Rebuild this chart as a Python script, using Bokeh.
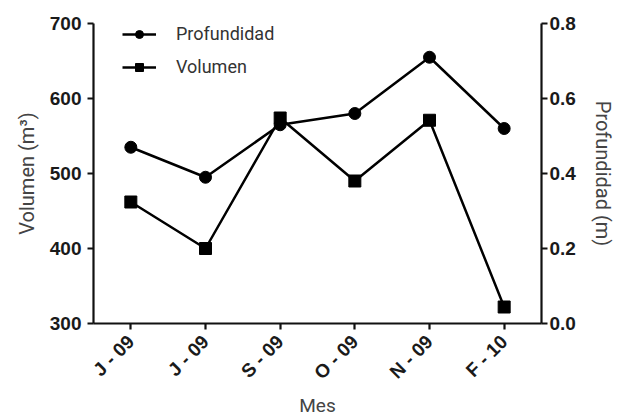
import math
from bokeh.plotting import figure
from bokeh.models import (LinearAxis, Range1d, FixedTicker, PrintfTickFormatter,
                          Legend, LegendItem)
from bokeh.embed import file_html
from bokeh.resources import INLINE

months = ["J - 09", "J - 09", "S - 09", "O - 09", "N - 09", "F - 10"]
volumen = [462, 400, 574, 490, 571, 322]
profundidad = [0.47, 0.39, 0.53, 0.56, 0.71, 0.52]
vol_ticks = [300, 400, 500, 600, 700]
prof_ticks = [0.0, 0.2, 0.4, 0.6, 0.8]

xs = list(range(len(months)))

p = figure(frame_width=448, frame_height=300, output_backend="svg", toolbar_location=None,
           x_range=Range1d(-0.5, len(months) - 0.5), y_range=Range1d(300, 700),
           min_border_left=93, min_border_right=88, min_border_top=23,
           min_border_bottom=94)
p.extra_y_ranges = {"prof": Range1d(0, 0.8)}
p.outline_line_color = None
p.xgrid.visible = False
p.ygrid.visible = False
p.background_fill_color = "white"

FONT = "Liberation Sans"
LFONT = "Roboto"

def style_axis(ax):
    ax.axis_line_width = 2.2
    ax.axis_line_color = "#111111"
    ax.major_tick_line_width = 2.2
    ax.major_tick_line_color = "#111111"
    ax.major_tick_out = 6
    ax.major_tick_in = 0
    ax.minor_tick_line_color = None
    ax.major_label_text_font = FONT
    ax.major_label_text_font_style = "bold"
    ax.major_label_text_color = "#1a1a1a"
    ax.axis_label_text_font = LFONT
    ax.axis_label_text_font_style = "normal"
    ax.axis_label_text_color = "#444444"

# bottom axis
xa = p.xaxis[0]
style_axis(xa)
xa.ticker = FixedTicker(ticks=xs)
xa.major_label_overrides = {i: m for i, m in zip(xs, months)}
xa.major_label_orientation = math.pi / 4
xa.major_label_text_font_size = "19px"
xa.major_label_standoff = 9
xa.axis_label = "Mes"
xa.axis_label_text_font_size = "19px"
xa.axis_label_standoff = 0

# left axis
ya = p.yaxis[0]
style_axis(ya)
ya.ticker = FixedTicker(ticks=vol_ticks)
ya.major_label_text_font_size = "19px"
ya.major_label_standoff = 6
ya.axis_label = "Volumen (m³)"
ya.axis_label_text_font_size = "20px"
ya.axis_label_standoff = 8

# right axis
ra = LinearAxis(y_range_name="prof")
style_axis(ra)
ra.ticker = FixedTicker(ticks=prof_ticks)
ra.formatter = PrintfTickFormatter(format="%.1f")
ra.major_label_text_font_size = "19px"
ra.major_label_standoff = 2
ra.axis_label = "Profundidad (m)"
ra.axis_label_text_font_size = "20px"
ra.axis_label_standoff = 12
p.add_layout(ra, "right")

# series
l1 = p.line(xs, profundidad, y_range_name="prof", line_color="black", line_width=2.5)
c1 = p.scatter(xs, profundidad, y_range_name="prof", marker="circle", size=12,
               fill_color="black", line_color="black")
l2 = p.line(xs, volumen, line_color="black", line_width=2.5)
s2 = p.scatter(xs, volumen, marker="square", size=12, fill_color="black",
               line_color="black")

legend = Legend(items=[LegendItem(label="Profundidad", renderers=[l1, c1]),
                       LegendItem(label="Volumen", renderers=[l2, s2])],
                location=(29, 246), orientation="vertical")
legend.background_fill_alpha = 0
legend.border_line_color = None
legend.padding = 0
legend.margin = 0
legend.spacing = 12
legend.glyph_width = 34
legend.glyph_height = 20
legend.label_height = 20
legend.label_standoff = 20
legend.label_text_font = LFONT
legend.label_text_font_size = "18px"
legend.label_text_color = "#333333"
p.add_layout(legend, "center")

open("out.html", "w").write(file_html(p, INLINE))
